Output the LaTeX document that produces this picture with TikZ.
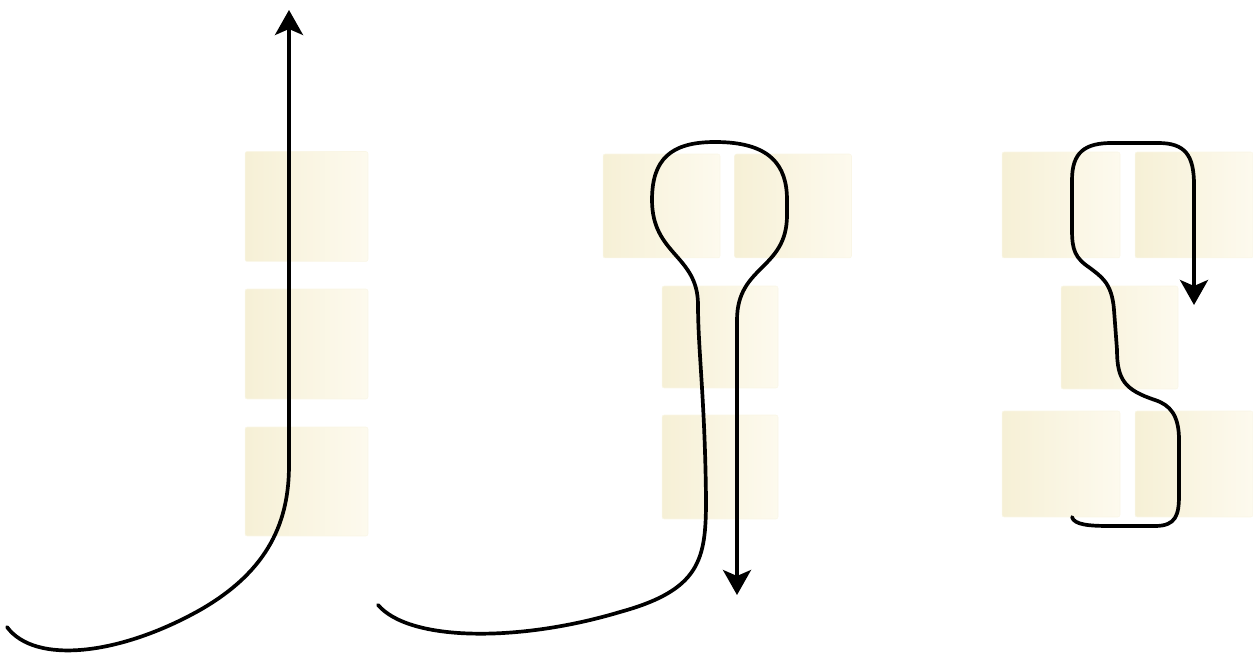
\documentclass[tikz,border=0pt]{standalone}
\usepackage{xcolor}
\definecolor{blockL}{HTML}{F6F0D6}
\definecolor{blockR}{HTML}{FDFAEE}
\usepackage{tikz}
\usetikzlibrary{arrows.meta}

\begin{document}
\begin{tikzpicture}[x=0.02cm, y=-0.02cm,
        block/.style={rectangle, rounded corners=1.2pt, inner sep=0pt, draw=blockL!60!white, line width=0.3pt,
            left color=blockL, right color=blockR, minimum width=2.34cm, minimum height=2.1cm},
        strand/.style={line width=2.1pt, line cap=round},
        tip/.style={-{Stealth[length=0.5cm, width=0.56cm, inset=0.12cm]}}]
        \useasboundingbox (0,0) rectangle (1253,661);

        % first panel
        \node[block, minimum width=2.46cm, minimum height=2.2cm] (a1) at (306.5,206.5) {};
        \node[block, minimum width=2.46cm, minimum height=2.2cm] (a2) at (306.5,344) {};
        \node[block, minimum width=2.46cm, minimum height=2.18cm] (a3) at (306.5,481.5) {};

        % second panel
        \node[block, minimum height=2.08cm] (b1) at (661.5,206) {};
        \node[block, minimum height=2.08cm] (b2) at (793,206) {};
        \node[block, minimum width=2.32cm, minimum height=2.04cm] (b3) at (720,337) {};
        \node[block, minimum width=2.32cm, minimum height=2.08cm] (b4) at (720,467) {};

        % third panel
        \node[block, minimum width=2.36cm, minimum height=2.12cm] (c1) at (1061,205) {};
        \node[block, minimum width=2.36cm, minimum height=2.12cm] (c2) at (1194,205) {};
        \node[block, minimum width=2.34cm, minimum height=2.06cm] (c3) at (1119.5,337.5) {};
        \node[block, minimum width=2.36cm, minimum height=2.12cm] (c4) at (1061,464) {};
        \node[block, minimum width=2.36cm, minimum height=2.12cm] (c5) at (1194,464) {};

        % strands
        \coordinate (sa) at (7,627);
        \coordinate (ea) at (289,10);
        \draw[strand, tip] (sa) .. controls (35,665) and (120,655) .. (200,610)
            .. controls (270,570) and (289,520) .. (289,465) -- (ea);

        \coordinate (sb) at (378,605);
        \coordinate (eb) at (737,595);
        \draw[strand, tip] (sb) .. controls (410,642) and (520,642) .. (620,612)
            .. controls (700,590) and (706,560) .. (706,500)
            .. controls (705,400) and (698,350) .. (698,305)
            .. controls (698,255) and (652,255) .. (652,200)
            .. controls (652,160) and (670,142) .. (715,142)
            .. controls (770,142) and (787,165) .. (787,200) -- (787,215)
            .. controls (787,270) and (737,265) .. (737,320) -- (eb);

        \coordinate (sc) at (1072,517);
        \coordinate (ec) at (1194,305);
        \draw[strand, tip] (sc) .. controls (1074,525) and (1090,526) .. (1110,526) -- (1155,526)
            .. controls (1176,526) and (1179,515) .. (1179,495) -- (1179,440)
            .. controls (1179,415) and (1170,405) .. (1155,400)
            .. controls (1125,390) and (1117,380) .. (1117,350) -- (1114,310)
            .. controls (1112,282) and (1100,276) .. (1090,268)
            .. controls (1075,258) and (1072,250) .. (1072,230) -- (1072,180)
            .. controls (1072,152) and (1085,143) .. (1112,143) -- (1158,143)
            .. controls (1185,143) and (1194,155) .. (1194,185) -- (ec);
\end{tikzpicture}
\end{document}
